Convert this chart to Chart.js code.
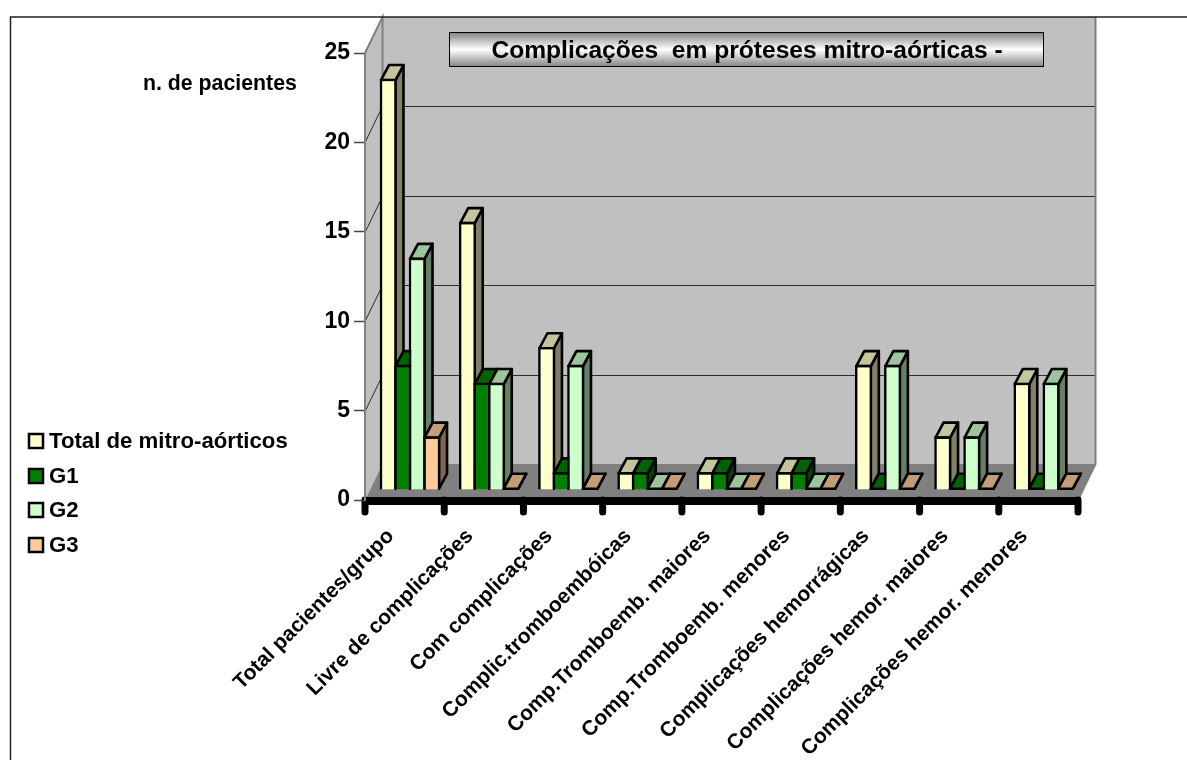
<!DOCTYPE html>
<html>
<head>
<meta charset="utf-8">
<title>Complicações em próteses mitro-aórticas</title>
<script src="https://cdn.jsdelivr.net/npm/chart.js@4/dist/chart.umd.min.js"></script>
<style>
    html, body { margin: 0; padding: 0; background: #fff; overflow: hidden; }
    canvas { display: block; }
</style>
</head>
<body>
<canvas id="myChart" width="1187" height="760"></canvas>
<script>
// setup
const categories = [
    'Total pacientes/grupo',
    'Livre de complicações',
    'Com complicações',
    'Complic.tromboembóicas',
    'Comp.Tromboemb. maiores',
    'Comp.Tromboemb. menores',
    'Complicações hemorrágicas',
    'Complicações hemor. maiores',
    'Complicações hemor. menores',
];
const seriesNames = ['Total de mitro-aórticos', 'G1', 'G2', 'G3'];
const totalMitro = [23, 15, 8, 1, 1, 1, 7, 3, 6];
const g1 = [7, 6, 1, 1, 1, 1, 0, 0, 0];
const g2 = [13, 6, 7, 0, 0, 0, 7, 3, 6];
const g3 = [3, 0, 0, 0, 0, 0, 0, 0, 0];
const seriesColors = ['#ffffcc', '#008000', '#ccffcc', '#ffcc99'];
const valueTicks = [0, 5, 10, 15, 20, 25];
const chartTitle = 'Complicações  em próteses mitro-aórticas -';
const axisNote = 'n. de pacientes';

const FONT = '"Liberation Sans", Arial, sans-serif';

// depth of the box around the plot, and where the bars stand inside it
const WALL_DX = 17.5, WALL_DY = -36;
const BAR_DX = 5.4, BAR_DY = -10;
const SIDE_DX = 8, SIDE_DY = -15;
const BAR_LINE = 2.6;

const shade = (hex, f) => {
    const n = parseInt(hex.slice(1), 16);
    const r = Math.round((n >> 16 & 255) * f);
    const g = Math.round((n >> 8 & 255) * f);
    const b = Math.round((n & 255) * f);
    return `rgb(${r}, ${g}, ${b})`;
};

const quad = (ctx, pts, fill, stroke, lw) => {
    ctx.beginPath();
    pts.forEach((p, i) => i ? ctx.lineTo(p[0], p[1]) : ctx.moveTo(p[0], p[1]));
    ctx.closePath();
    if (fill) { ctx.fillStyle = fill; ctx.fill(); }
    if (stroke) { ctx.strokeStyle = stroke; ctx.lineWidth = lw; ctx.lineJoin = 'round'; ctx.stroke(); }
};

// walls, floor and the grid lines on them
const boxPlugin = {
    id: 'box',
    beforeDraw(chart) {
        const { ctx, chartArea: a, scales: { y } } = chart;
        const dx = WALL_DX, dy = WALL_DY;
        ctx.save();

        quad(ctx, [[a.left, a.top], [a.left + dx, a.top + dy], [a.left + dx, a.bottom + dy], [a.left, a.bottom]], '#c0c0c0');
        quad(ctx, [[a.left + dx, a.top + dy], [a.right + dx, a.top + dy], [a.right + dx, a.bottom + dy], [a.left + dx, a.bottom + dy]], '#c0c0c0');
        quad(ctx, [[a.left, a.bottom], [a.left + dx, a.bottom + dy], [a.right + dx, a.bottom + dy], [a.right, a.bottom]], '#808080');

        ctx.strokeStyle = '#2b2b2b';
        ctx.lineWidth = 1;
        valueTicks.slice(1, -1).forEach(v => {
            const py = Math.round(y.getPixelForValue(v)) + 0.5;
            ctx.beginPath();
            ctx.moveTo(a.left, py);
            ctx.lineTo(a.left + dx, py + dy);
            ctx.lineTo(a.right + dx, py + dy);
            ctx.stroke();
        });

        // outer edges of the box
        ctx.strokeStyle = '#808080';
        ctx.lineWidth = 2;
        ctx.beginPath();
        ctx.moveTo(a.left, a.top);
        ctx.lineTo(a.left + dx, a.top + dy);
        ctx.lineTo(a.left + dx, a.bottom + dy);
        ctx.moveTo(a.right + dx, a.top + dy);
        ctx.lineTo(a.right + dx, a.bottom + dy);
        ctx.lineTo(a.right, a.bottom);
        ctx.stroke();

        // frame line of the sheet
        ctx.strokeStyle = '#222';
        ctx.lineWidth = 1.5;
        ctx.beginPath();
        ctx.moveTo(10.5, 760);
        ctx.lineTo(10.5, 17);
        ctx.lineTo(1187, 17);
        ctx.stroke();

        // heavy category axis with rounded tick marks
        const step = (a.right - a.left) / categories.length;
        ctx.strokeStyle = '#000';
        ctx.lineCap = 'round';
        ctx.lineWidth = 7;
        for (let i = 0; i <= categories.length; i++) {
            ctx.beginPath();
            ctx.moveTo(a.left + i * step, a.bottom);
            ctx.lineTo(a.left + i * step, a.bottom + 12);
            ctx.stroke();
        }
        ctx.fillStyle = '#000';
        ctx.fillRect(a.left - 3, a.bottom - 3, a.right - a.left + 6, 8);
        ctx.restore();
    },
    // bars go left to right so each front face covers its left neighbour's side,
    // and they stand a little behind the front edge of the floor
    beforeDatasetsDraw(chart) {
        const { ctx, scales: { y } } = chart;
        const half = BAR_LINE / 2;
        const base = y.getPixelForValue(0) - half;
        const dx = SIDE_DX, dy = SIDE_DY;
        ctx.save();
        ctx.translate(BAR_DX, BAR_DY);
        chart.data.datasets.forEach((ds, i) => {
            const color = seriesColors[i];
            chart.getDatasetMeta(i).data.forEach(bar => {
                const l = bar.x - bar.width / 2 + half, r = bar.x + bar.width / 2 - half;
                const t = Math.min(bar.y + half, base);
                quad(ctx, [[r, t], [r + dx, t + dy], [r + dx, base + dy], [r, base]], shade(color, 0.5), '#000', BAR_LINE);
                quad(ctx, [[l, t], [l + dx, t + dy], [r + dx, t + dy], [r, t]], shade(color, 0.77), '#000', BAR_LINE);
                bar.draw(ctx);
            });
        });
        ctx.restore();
        return false;
    },
    // title box, axis note and legend
    afterDraw(chart) {
        const { ctx } = chart;
        ctx.save();
        const grad = ctx.createLinearGradient(0, 32, 0, 67);
        grad.addColorStop(0, '#808080');
        grad.addColorStop(0.5, '#ffffff');
        grad.addColorStop(1, '#808080');
        ctx.fillStyle = grad;
        ctx.fillRect(449.5, 32.5, 594, 34);
        ctx.strokeStyle = '#000';
        ctx.lineWidth = 1;
        ctx.strokeRect(449.5, 32.5, 594, 34);

        ctx.fillStyle = '#000';
        ctx.textBaseline = 'middle';
        ctx.textAlign = 'center';
        ctx.font = 'bold 24.6px ' + FONT;
        ctx.fillText(chartTitle, 747, 51);

        ctx.font = 'bold 21.3px ' + FONT;
        ctx.textAlign = 'left';
        ctx.fillText(axisNote, 143, 84);

        ctx.font = 'bold 22.2px ' + FONT;
        const rows = [441, 476, 510, 545];
        seriesNames.forEach((name, i) => {
            ctx.fillStyle = seriesColors[i];
            ctx.fillRect(29, rows[i] - 7, 14, 14);
            ctx.strokeStyle = '#000';
            ctx.lineWidth = 2.5;
            ctx.strokeRect(29, rows[i] - 7, 14, 14);
            ctx.fillStyle = '#000';
            ctx.fillText(name, 49, rows[i] + 1);
        });
        ctx.restore();
    },
};

const data = {
    labels: categories,
    datasets: [totalMitro, g1, g2, g3].map((values, i) => ({
        label: seriesNames[i],
        data: values,
        backgroundColor: seriesColors[i],
        borderColor: '#000',
        borderWidth: BAR_LINE,
        categoryPercentage: 0.733,
        barPercentage: 1.18,
    })),
};

// config
const config = {
    type: 'bar',
    data,
    plugins: [boxPlugin],
    options: {
        responsive: false,
        animation: false,
        layout: { padding: { left: 0, top: 53, right: 109, bottom: 0 } },
        plugins: {
            legend: { display: false },
            title: { display: false },
            tooltip: { enabled: false },
        },
        scales: {
            x: {
                afterFit: s => { s.height = 260; },
                border: { display: false },
                grid: { display: false },
                ticks: {
                    autoSkip: false,
                    minRotation: 45,
                    maxRotation: 45,
                    padding: 16,
                    labelOffset: -14,
                    color: '#000',
                    font: { family: FONT, size: 21, weight: 'bold' },
                },
            },
            y: {
                min: 0,
                max: 25,
                afterFit: s => { s.width = 365; },
                afterBuildTicks: s => { s.ticks = valueTicks.map(value => ({ value })); },
                border: { color: '#808080', width: 2 },
                grid: { drawOnChartArea: false, tickLength: 11, tickColor: '#444', tickWidth: 1.5 },
                ticks: {
                    padding: 4,
                    color: '#000',
                    font: { family: FONT, size: 23, weight: 'bold' },
                },
            },
        },
    },
};

// and here is the chart
let myChart = new Chart('myChart', config);
</script>
</body>
</html>
